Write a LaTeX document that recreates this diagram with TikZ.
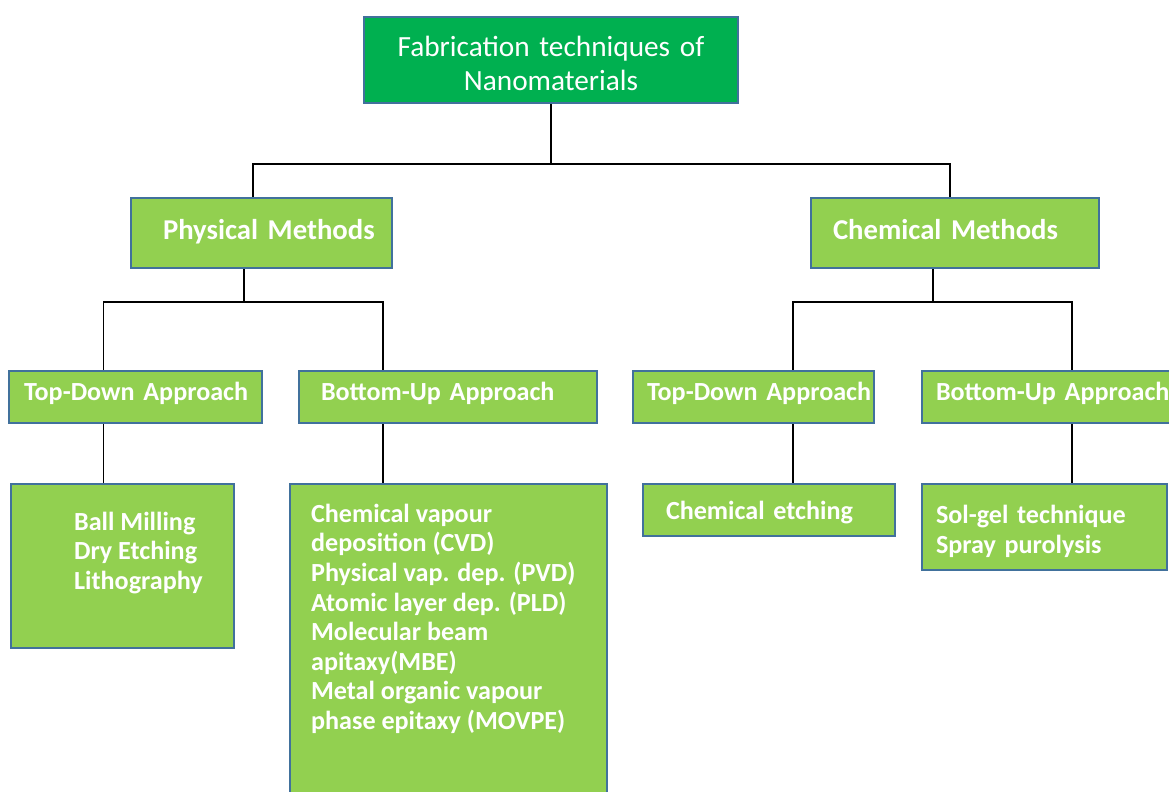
\documentclass[tikz,border=0pt]{standalone}
\usepackage{fontspec}
\setmainfont{Carlito}
\usetikzlibrary{positioning, calc}
\definecolor{rootgreen}{RGB}{0,176,80}
\definecolor{leafgreen}{RGB}{146,208,80}
\definecolor{edgeblue}{RGB}{65,113,156}
\hyphenpenalty=10000
\exhyphenpenalty=10000
\tikzset{
  boxsize/.style 2 args={minimum width=#1*0.03cm, minimum height=#2*0.03cm},
  leftpad/.style 2 args={text width=(#1-2*#2)*0.03cm, inner xsep=#2*0.03cm, align=left},
  rootbox/.style={rectangle, draw=edgeblue, fill=rootgreen, line width=1.9pt,
    text=white, inner ysep=0pt, font=\fontsize{25}{29}\selectfont},
  methodbox/.style={rectangle, draw=edgeblue, fill=leafgreen, line width=1.9pt,
    text=white, inner ysep=0pt, text depth=6pt, font=\bfseries\fontsize{24.5}{28}\selectfont},
  approachbox/.style={rectangle, draw=edgeblue, fill=leafgreen, line width=1.9pt,
    text=white, inner ysep=0pt, text depth=9.5pt, font=\bfseries\fontsize{22.3}{25}\selectfont},
  listbox/.style={rectangle, draw=edgeblue, fill=leafgreen, line width=1.9pt,
    text=white, inner ysep=0pt, font=\bfseries\fontsize{22.3}{25.4}\selectfont},
  listtext/.style={text=white, inner sep=0pt, align=left,
    font=\bfseries\fontsize{22.3}{25.2}\selectfont},
  link/.style={line width=1.6pt, color=black}
}
\begin{document}
\begin{tikzpicture}[x=0.03cm, y=-0.03cm]
  \useasboundingbox (0,0) rectangle (1169,792);
  \clip (0,0) rectangle (1169,792);
  % Root
  \node[rootbox, boxsize={374}{86}, text width=350*0.03cm, align=center] (root) at (551,60)
    {\rule{0pt}{24pt}Fabrication techniques of\\Nanomaterials};
  % Methods
  \node[methodbox, boxsize={261}{70}, leftpad={261}{32}] (phys) at (261.5,233) {Physical~Methods};
  \node[methodbox, boxsize={288}{70}, leftpad={288}{22}] (chem) at (955,233) {Chemical~Methods};
  % Approaches
  \node[approachbox, boxsize={253}{52}, leftpad={253}{15}] (tdl) at (135.5,397) {Top-Down~Approach};
  \node[approachbox, boxsize={298}{52}, leftpad={298}{22}] (bul) at (448,397) {Bottom-Up~Approach};
  \node[approachbox, boxsize={241}{52}, leftpad={241}{14}] (tdr) at (753.5,397) {Top-Down~Approach};
  \node[approachbox, boxsize={260}{52}, leftpad={260}{14}] (bur) at (1052,397) {Bottom-Up~Approach};
  % Techniques
  \node[listbox, boxsize={223}{164}] (ball) at (122.5,566) {};
  \node[listtext, anchor=north west] (balltxt) at ($(ball.north west)+(64,29)$)
    {Ball Milling\\Dry Etching\\Lithography};
  \node[listbox, boxsize={317}{332}] (cvd) at (448.5,650) {};
  \node[listtext, anchor=north west] (cvdtxt) at ($(cvd.north west)+(22,21)$)
    {Chemical vapour\\deposition (CVD)\\Physical vap. dep. (PVD)\\Atomic layer dep. (PLD)\\
     Molecular beam\\apitaxy(MBE)\\Metal organic vapour\\phase epitaxy (MOVPE)};
  \node[listbox, boxsize={252}{52}, leftpad={252}{23}, text depth=0pt] (etch) at (769,510) {Chemical~etching};
  \node[listbox, boxsize={245}{86}, leftpad={245}{14}] (solgel) at (1044.5,527)
    {\rule{0pt}{23.5pt}Sol-gel technique\\Spray purolysis};
  % Connectors
  \coordinate (j0) at ($(root.south)+(0,60)$);
  \draw[link] (root.south) -- (j0);
  \draw[link] ($(phys.north)+(-8.5,0)$) |- (j0) -| ($(chem.north)+(-5,0)$);
  \coordinate (j1) at ($(phys.south)+(-17.5,33)$);
  \draw[link] ($(phys.south)+(-17.5,0)$) -- (j1);
  \draw[link] ($(tdl.north)+(-32,0)$) |- (j1) -| ($(bul.north)+(-65,0)$);
  \coordinate (j2) at ($(chem.south)+(-22,33)$);
  \draw[link] ($(chem.south)+(-22,0)$) -- (j2);
  \draw[link] ($(tdr.north)+(39.5,0)$) |- (j2) -| ($(bur.north)+(20,0)$);
  \coordinate (t1) at ($(tdl.south)+(-32,0)$);
  \coordinate (t2) at ($(bul.south)+(-65,0)$);
  \coordinate (t3) at ($(tdr.south)+(39.5,0)$);
  \coordinate (t4) at ($(bur.south)+(20,0)$);
  \draw[link] (t1) -- (t1 |- ball.north);
  \draw[link] (t2) -- (t2 |- cvd.north);
  \draw[link] (t3) -- (t3 |- etch.north);
  \draw[link] (t4) -- (t4 |- solgel.north);
\end{tikzpicture}
\end{document}
